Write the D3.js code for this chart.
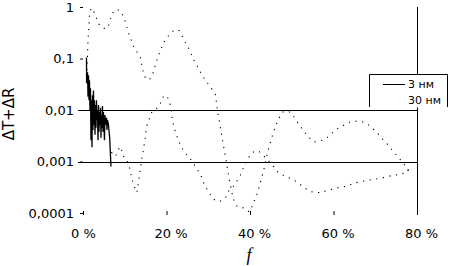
<!DOCTYPE html>
<html><head><meta charset="utf-8">
<script src="https://cdn.jsdelivr.net/npm/d3@7"></script>
<style>body{margin:0;background:#fff}svg{display:block}</style>
</head><body>
<svg id="c" width="450" height="266"></svg>
<script>
// ---- data ----
const xTicks = [0, 20, 40, 60, 80];
const xTickLabels = ["0 %", "20 %", "40 %", "60 %", "80 %"];
const yTicks = [0.0001, 0.001, 0.01, 0.1, 1];
const yTickLabels = ["0,0001", "0,001", "0,01", "0,1", "1"];
const gridValues = [0.01, 0.001];
const seriesNames = ["3 нм", "30 нм"];

// 3 nm (solid), [f %, value]
const series3nm = [
 [0.84,0.105],[0.86,0.033],[1.08,0.054],[1.2,0.018],[1.32,0.047],[1.44,0.0155],[1.55,0.038],
 [1.67,0.01],[1.79,0.0265],[1.91,0.0026],[2.03,0.0155],[2.15,0.0019],[2.27,0.0194],[2.39,0.0041],
 [2.51,0.024],[2.63,0.0052],[2.75,0.0155],[2.87,0.0033],[2.99,0.0125],[3.11,0.0045],[3.23,0.0155],
 [3.35,0.0064],[3.47,0.01],[3.59,0.0026],[3.71,0.0125],[3.83,0.0038],[3.95,0.0091],[4.07,0.0052],
 [4.19,0.011],[4.31,0.0029],[4.43,0.008],[4.55,0.0045],[4.66,0.012],[4.78,0.0038],[4.9,0.0091],
 [5.14,0.0026],[5.26,0.008],[5.38,0.0052],[5.62,0.0071],[5.74,0.0041],[5.86,0.0064],[6.1,0.0052],
 [6.4,0.0028],[6.58,0.0013],[6.7,0.0008]
];

// 30 nm (dotted), [f %, value]
const series30nm = [
 [0.96,0.059],[1.2,0.222],[1.55,0.67],[1.91,0.956],[2.75,0.77],[3.71,0.47],[4.66,0.395],[5.62,0.377],
 [6.34,0.47],[6.82,0.70],[7.54,0.875],[8.49,0.875],[9.21,0.80],[10.17,0.515],[10.88,0.316],[11.6,0.222],
 [12.32,0.156],[13.04,0.13],[13.75,0.105],[14.23,0.064],[14.71,0.045],[15.43,0.038],[16.15,0.041],
 [16.86,0.054],[17.82,0.1],[18.54,0.143],[19.26,0.194],[19.73,0.232],[20.69,0.29],[21.89,0.36],
 [23.08,0.345],[24.28,0.222],[25.48,0.149],[26.43,0.096],[27.15,0.077],[27.87,0.059],[29.3,0.038],
 [30.74,0.0265],[31.7,0.020],[32.41,0.0077],[32.89,0.0047],[33.61,0.0021],[34.09,0.0013],[35.04,0.00045],
 [36.0,0.000186],[36.96,0.000131],[38.39,0.000126],[39.83,0.000105],[40.54,0.000136],[41.74,0.00024],
 [43.17,0.00062],[44.37,0.0017],[45.57,0.0036],[46.52,0.0059],[47.72,0.0091],[49.16,0.0095],[50.11,0.0083],
 [51.31,0.0059],[52.5,0.0043],[53.94,0.003],[55.38,0.0024],[56.81,0.0025],[58.25,0.0028],[59.2,0.0033],
 [60.88,0.0043],[62.55,0.0051],[63.99,0.0059],[65.18,0.0061],[66.86,0.0059],[68.05,0.0054],[70.21,0.0038],
 [71.64,0.0028],[73.08,0.0021],[74.51,0.0015],[75.95,0.0011],[77.15,0.00083],[78.1,0.00064]
];

// second dotted curve (unlabelled), [f %, value]
const seriesDotted2 = [
 [6.58,0.0011],[6.82,0.00149],[7.3,0.00143],[7.77,0.00126],[8.01,0.00137],[8.49,0.0017],[8.85,0.00195],
 [9.21,0.0017],[9.69,0.00126],[10.4,0.00115],[11.12,0.00077],[11.6,0.00051],[12.08,0.00036],[12.56,0.00029],
 [12.92,0.00025],[13.28,0.0004],[13.75,0.00071],[13.99,0.001],[14.47,0.0017],[14.95,0.003],[15.19,0.0047],
 [15.67,0.0059],[16.15,0.008],[16.62,0.0095],[17.82,0.011],[18.3,0.012],[19.02,0.017],[19.5,0.0194],
 [20.21,0.0178],[20.69,0.0149],[21.17,0.01],[21.41,0.0064],[21.89,0.0043],[22.6,0.0029],[23.32,0.0021],
 [24.28,0.0015],[25.48,0.0012],[26.43,0.00091],[27.39,0.00071],[28.35,0.00051],[29.06,0.00036],
 [29.78,0.00028],[30.98,0.000195],[31.94,0.00017],[32.89,0.00017],[34.09,0.000195],[35.04,0.00028],
 [36.0,0.00033],[36.96,0.00043],[37.67,0.00054],[38.39,0.00074],[39.35,0.0011],[40.54,0.00149],
 [41.5,0.00163],[42.22,0.00155],[42.93,0.00137],[43.65,0.0012],[45.33,0.00087],[46.52,0.00064],
 [47.96,0.00054],[49.64,0.00047],[51.31,0.0004],[52.74,0.00032],[54.42,0.00026],[56.33,0.00025],
 [57.29,0.00025],[58.72,0.00028],[59.92,0.00029],[61.6,0.00032],[63.27,0.00033],[64.71,0.00038],
 [66.38,0.0004],[68.05,0.00043],[69.49,0.00045],[71.16,0.00047],[72.84,0.00051],[74.27,0.00054],
 [75.95,0.00056],[77.62,0.00062],[78.1,0.00077]
];

// ---- drawing ----
const svg = d3.select("#c");
const x = d3.scaleLinear().domain([0, 80]).range([83, 417]);
const y = d3.scaleLog().domain([0.0001, 1]).range([213, 7]);
const font = "'DejaVu Sans', sans-serif";

// gridlines
svg.append("g").selectAll("line").data(gridValues).join("line")
  .attr("x1", 78).attr("x2", x(80))
  .attr("y1", d => Math.round(y(d)) + 0.5).attr("y2", d => Math.round(y(d)) + 0.5)
  .attr("stroke", "#000").attr("stroke-width", 1);

// right vertical line
svg.append("line").attr("x1", Math.round(x(80)) + 0.5).attr("x2", Math.round(x(80)) + 0.5)
  .attr("y1", y(1)).attr("y2", y(0.0001)).attr("stroke", "#000");

// x axis
const xAxis = d3.axisBottom(x).tickValues(xTicks).tickSize(4).tickFormat((d, i) => xTickLabels[i]);
const gx = svg.append("g").attr("transform", "translate(0,211)").call(xAxis);
gx.select(".domain").remove();
gx.selectAll("line").attr("stroke", "#000");
gx.selectAll("text").attr("font-family", font).attr("font-size", 13).attr("fill", "#000")
  .attr("text-anchor", "start").attr("x", -12.5).attr("y", 18);

// y axis
const yAxis = d3.axisLeft(y).tickValues(yTicks).tickSize(3).tickPadding(6)
  .tickFormat(d => yTickLabels[yTicks.indexOf(d)]);
const gy = svg.append("g").attr("transform", "translate(83,0)").call(yAxis);
gy.select(".domain").remove();
gy.selectAll("line").attr("stroke", "#000");
gy.selectAll("text").attr("font-family", font).attr("font-size", 13).attr("fill", "#000");

// lines
const line = d3.line().x(d => x(d[0])).y(d => y(d[1]));
svg.append("path").datum(seriesDotted2).attr("d", line)
  .attr("fill", "none").attr("stroke", "#000").attr("stroke-width", 1.1).attr("stroke-dasharray", "1.2,5.5");
svg.append("path").datum(series30nm).attr("d", line)
  .attr("fill", "none").attr("stroke", "#000").attr("stroke-width", 1.1).attr("stroke-dasharray", "1.2,5.5");
svg.append("path").datum(series3nm).attr("d", line)
  .attr("fill", "none").attr("stroke", "#000").attr("stroke-width", 1.3);

// legend
const lg = svg.append("g");
lg.append("rect").attr("x", 369.5).attr("y", 74.5).attr("width", 78).attr("height", 33).attr("fill", "#fff").attr("stroke", "none");
lg.append("path").attr("d", "M369.5,107 V74.5 H447.5 V107").attr("fill", "none").attr("stroke", "#000");
lg.append("line").attr("x1", 383).attr("x2", 405).attr("y1", 84.5).attr("y2", 84.5).attr("stroke", "#000");
lg.selectAll("text").data(seriesNames).join("text")
  .attr("x", 408).attr("y", (d, i) => 88 + i * 16)
  .attr("font-family", font).attr("font-size", 11).attr("fill", "#000").text(d => d);

// axis titles
svg.append("text").attr("transform", "translate(14,114) rotate(-90)").attr("text-anchor", "middle")
  .attr("font-family", font).attr("font-size", 15).attr("fill", "#000").text("ΔT+ΔR");
svg.append("text").attr("x", 249).attr("y", 261).attr("text-anchor", "middle")
  .attr("font-family", "'Liberation Serif', serif").attr("font-style", "italic").attr("font-size", 18)
  .attr("fill", "#000").text("f");
</script>
</body></html>
